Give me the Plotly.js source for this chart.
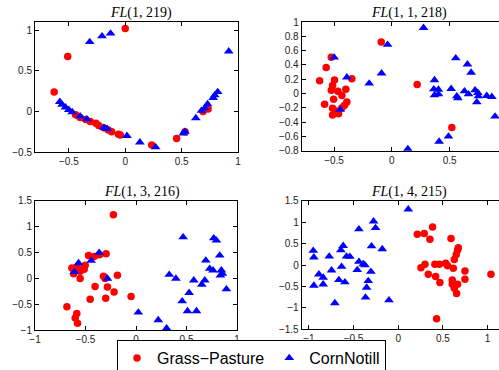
<!DOCTYPE html>
<html>
<head>
<meta charset="utf-8">
<script src="https://cdn.plot.ly/plotly-3.0.1.min.js"></script>
<style>html,body{margin:0;padding:0;background:#fff;overflow:hidden}#chart{width:499px;height:370px}</style>
</head>
<body>
<div id="chart"></div>
<script>
// Class names
const classNames = ["Grass\u2212Pasture", "CornNotill"];
const panelTitles = ["<i>FL</i>(1, 219)", "<i>FL</i>(1, 1, 218)", "<i>FL</i>(1, 3, 216)", "<i>FL</i>(1, 4, 215)"];

// Panel 1: FL(1,219)
const gpX1 = [0, -0.51, -0.63, -0.44, -0.40, -0.35, -0.31, -0.26, -0.235, -0.19, -0.15, -0.12, -0.06, -0.044, 0.235, 0.456, 0.53, 0.69, 0.735];
const gpY1 = [1.02, 0.675, 0.24, -0.04, -0.075, -0.10, -0.125, -0.145, -0.175, -0.2, -0.23, -0.25, -0.28, -0.29, -0.415, -0.335, -0.25, 0.0, 0.03];
const cnX1 = [-0.315, -0.206, -0.13, 0.918, -0.58, -0.56, -0.53, -0.5, -0.47, -0.4, -0.34, -0.19, -0.16, 0.015, 0.13, 0.27, 0.515, 0.53, 0.626, 0.676, 0.706, 0.73, 0.78, 0.794, 0.82];
const cnY1 = [0.854, 0.925, 0.96, 0.74, 0.117, 0.083, 0.05, 0.02, -0.008, -0.06, -0.096, -0.2, -0.215, -0.30, -0.38, -0.44, -0.27, -0.25, -0.083, 0.008, 0.04, 0.09, 0.167, 0.2, 0.24];

// Panel 2: FL(1,1,218)
const gpX2 = [-0.092, -0.524, -0.568, -0.625, -0.496, -0.346, -0.513, -0.524, -0.467, -0.398, -0.432, -0.504, -0.389, -0.582, -0.513, -0.409, -0.432, -0.476, -0.513, -0.461, 0.219, 0.519];
const gpY2 = [0.72, 0.508, 0.362, 0.179, 0.188, 0.207, 0.113, 0.047, 0.033, 0.061, -0.028, -0.08, -0.118, -0.15, -0.207, -0.165, -0.198, -0.245, -0.3, -0.282, 0.127, -0.475];
const cnX2 = [0.274, -0.037, -0.499, 0.553, 0.654, -0.389, -0.089, -0.196, 0.686, 0.369, 0.363, 0.403, 0.513, 0.369, 0.403, 0.562, 0.571, 0.628, 0.663, 0.72, 0.744, 0.749, 0.735, 0.821, 0.865, 0.893, -0.447, 0.49, 0.409, 0.138];
const cnY2 = [0.918, 0.682, 0.504, 0.494, 0.409, 0.226, 0.282, 0.141, 0.292, 0.188, 0.061, 0.056, 0.066, -0.024, -0.009, -0.038, -0.066, 0.033, -0.009, 0.047, 0.009, -0.038, -0.122, -0.033, -0.047, -0.32, -0.226, -0.6, -0.673, -0.776];

// Panel 3: FL(1,3,216)
const gpX3 = [-0.224, -0.47, -0.414, -0.362, -0.296, -0.635, -0.586, -0.618, -0.52, -0.503, -0.553, -0.513, -0.553, -0.322, -0.306, -0.184, -0.405, -0.283, -0.217, -0.454, -0.3, -0.049, -0.684, -0.586, -0.602, -0.579];
const gpY3 = [1.23, 0.44, 0.42, 0.455, 0.474, 0.2, 0.218, 0.09, 0.2, 0.25, 0.135, 0.173, -0.006, 0.038, -0.006, 0.058, -0.16, -0.167, -0.263, -0.404, -0.385, -0.353, -0.551, -0.68, -0.77, -0.87];
const cnX3 = [-0.365, -0.444, -0.569, -0.609, -0.283, 0.467, 0.77, 0.796, 0.829, 0.691, 0.73, 0.763, 0.845, 0.855, 0.836, 0.329, 0.395, 0.572, 0.681, 0.651, 0.895, 0.526, 0.457, 0.51, 0.599, 0.023, 0.22, 0.303];
const cnY3 = [0.494, 0.34, 0.295, 0.122, -0.006, 0.795, 0.776, 0.731, 0.442, 0.346, 0.186, 0.154, 0.154, 0.09, 0.058, 0.07, -0.006, -0.038, -0.038, -0.122, -0.212, -0.282, -0.442, -0.635, -0.635, -0.66, -0.808, -0.968];

// Panel 4: FL(1,4,215)
const gpX4 = [0.384, 0.213, 0.291, 0.354, 0.59, 0.672, 0.664, 0.649, 0.627, 0.254, 0.299, 0.41, 0.459, 0.53, 0.552, 0.616, 0.746, 1.037, 0.336, 0.418, 0.466, 0.604, 0.746, 0.604, 0.664, 0.627, 0.653, 0.429];
const gpY4 = [0.889, 0.719, 0.735, 0.603, 0.619, 0.402, 0.348, 0.247, 0.131, -0.062, 0.015, 0.015, 0.015, 0.039, -0.015, -0.077, -0.139, -0.217, -0.217, -0.271, -0.41, -0.348, -0.333, -0.449, -0.449, -0.541, -0.665, -1.253];
const cnX4 = [0.112, -0.276, -0.254, -0.44, -0.299, -0.179, -0.616, -0.642, -0.951, -0.944, -0.772, -0.578, -0.541, -0.44, -0.392, -0.373, -0.634, -0.746, -0.459, -0.306, -0.888, -0.84, -0.664, -0.597, -0.336, -0.944, -0.84, -0.354, -0.366, -0.709, -0.104];
const cnY4 = [1.30, 1.02, 0.866, 0.835, 0.44, 0.371, 0.449, 0.348, 0.333, 0.178, 0.201, 0.201, 0.193, 0.077, 0.023, 0, -0.039, -0.124, -0.116, -0.155, -0.217, -0.294, -0.348, -0.402, -0.371, -0.48, -0.449, -0.526, -0.758, -0.889, -0.82];

const W = 499, H = 370;
const px = v => v / W;
const py = v => 1 - v / H;

const gpStyle = {symbol: 'circle', size: 7.5, color: '#ff0000'};
const cnStyle = {symbol: 'triangle-up', size: 8.5, color: '#0000ff'};

const sets = [[gpX1, gpY1, cnX1, cnY1], [gpX2, gpY2, cnX2, cnY2], [gpX3, gpY3, cnX3, cnY3], [gpX4, gpY4, cnX4, cnY4]];
const traces = [];
sets.forEach((s, i) => {
  const ax = i === 0 ? '' : String(i + 1);
  traces.push({x: s[0], y: s[1], type: 'scatter', mode: 'markers', name: classNames[0], marker: gpStyle, xaxis: 'x' + ax, yaxis: 'y' + ax, showlegend: i === 0, legendgroup: 'gp'});
  traces.push({x: s[2], y: s[3], type: 'scatter', mode: 'markers', name: classNames[1], marker: cnStyle, xaxis: 'x' + ax, yaxis: 'y' + ax, showlegend: i === 0, legendgroup: 'cn'});
});

const tickFont = {family: 'Liberation Sans, Arial, sans-serif', size: 10, color: '#222'};
function axis(extra) {
  return Object.assign({
    showgrid: false, zeroline: false, showline: true, linecolor: '#000', linewidth: 1,
    ticks: 'inside', ticklen: 4, tickcolor: '#000', tickfont: tickFont, mirror: 'allticks'
  }, extra);
}

const layout = {
  width: W, height: H,
  margin: {l: 0, r: 0, t: 0, b: 0, autoexpand: false},
  paper_bgcolor: '#fff', plot_bgcolor: '#fff',
  showlegend: true,
  xaxis: axis({domain: [px(35), px(238)], range: [-0.8, 1], tickvals: [-0.5, 0, 0.5, 1], anchor: 'y'}),
  yaxis: axis({domain: [py(152), py(22)], range: [-0.5, 1.1], tickvals: [-0.5, 0, 0.5, 1], anchor: 'x'}),
  xaxis2: axis({domain: [px(301.7), 1], range: [-0.78, 0.927], tickvals: [-0.5, 0, 0.5], anchor: 'y2', mirror: 'ticks'}),
  yaxis2: axis({domain: [py(150.7), py(22)], range: [-0.8, 1], tickvals: [-0.8, -0.6, -0.4, -0.2, 0, 0.2, 0.4, 0.6, 0.8, 1], anchor: 'x2', mirror: false}),
  xaxis3: axis({domain: [px(35), px(237)], range: [-1, 1], tickvals: [-1, -0.5, 0, 0.5, 1], anchor: 'y3'}),
  yaxis3: axis({domain: [py(330), py(200.7)], range: [-1, 1.5], tickvals: [-1, -0.5, 0, 0.5, 1, 1.5], anchor: 'x3'}),
  xaxis4: axis({domain: [px(301.7), 1], range: [-1.08, 1.127], tickvals: [-1, -0.5, 0, 0.5, 1], anchor: 'y4', mirror: 'ticks'}),
  yaxis4: axis({domain: [py(329.3), py(200.7)], range: [-1.5, 1.5], tickvals: [-1.5, -1, -0.5, 0, 0.5, 1, 1.5], anchor: 'x4', mirror: false}),
  legend: {
    orientation: 'h', x: px(117), y: py(340), xanchor: 'left', yanchor: 'top',
    bordercolor: '#000', borderwidth: 1, bgcolor: '#fff',
    font: {family: 'Liberation Sans, Arial, sans-serif', size: 16, color: '#000'}
  },
  annotations: [
    {x: px(141), y: py(13), text: panelTitles[0]},
    {x: px(409), y: py(13), text: panelTitles[1]},
    {x: px(142), y: py(192), text: panelTitles[2]},
    {x: px(409), y: py(192), text: panelTitles[3]}
  ].map(a => Object.assign({xref: 'paper', yref: 'paper', xanchor: 'center', yanchor: 'middle', showarrow: false,
    font: {family: 'Liberation Serif, DejaVu Serif, serif', size: 14, color: '#000'}}, a))
};

Plotly.newPlot('chart', traces, layout, {staticPlot: true, displayModeBar: false});
</script>
</body>
</html>
